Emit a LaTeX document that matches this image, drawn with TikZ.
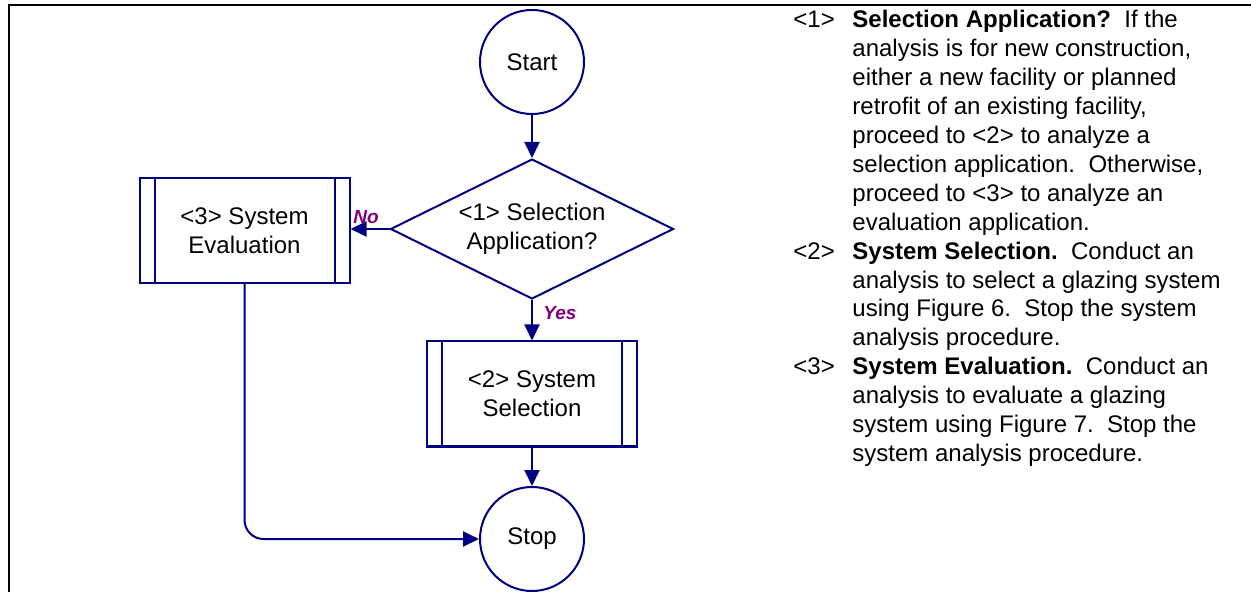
\documentclass[tikz,border=0pt]{standalone}
\usepackage{fontspec}
\setmainfont{Liberation Sans}
\usetikzlibrary{shapes.geometric,arrows.meta}
\definecolor{navy}{RGB}{0,0,128}
\definecolor{lblpurple}{RGB}{128,0,128}
\begin{document}
\begin{tikzpicture}[x=0.5pt,y=-0.5pt,
  every node/.style={font=\fontsize{12}{14.45}\selectfont, inner sep=0pt},
  flow/.style={draw=navy, line width=1pt},
  term/.style={flow, circle, minimum size=52pt, align=center},
  decision/.style={flow, diamond, minimum width=141.5pt, minimum height=70pt, align=center, shape aspect=2},
  proc/.style={flow, rectangle, minimum width=105pt, minimum height=52.5pt, align=center},
  conn/.style={draw=navy, line width=1pt, -{Triangle[length=8pt,width=7.5pt]}},
  lbl/.style={text=lblpurple, font=\fontsize{9.5}{11}\selectfont\bfseries\itshape},
]
\useasboundingbox (0,0) rectangle (1251,592);
\draw[line width=1.25pt] (9,600) -- (9,5) -- (1260,5);

\node[term] (start) at (532,62) {Start};
\node[decision] (dec) at (532,229) {<1> Selection\\Application?};
\node[proc] (eval) at (244.5,230.5) {<3> System\\Evaluation};
\node[proc] (sel) at (532,394) {<2> System\\Selection};
\node[term] (stop) at (532,539) {Stop};

\foreach \b in {eval,sel}{
  \draw[flow] ([xshift=8pt]\b.north west) -- ([xshift=8pt]\b.south west);
  \draw[flow] ([xshift=-8pt]\b.north east) -- ([xshift=-8pt]\b.south east);
}

\draw[conn] (start) -- (dec);
\draw[conn] (dec.west) -- (dec.west -| eval.east);
\draw[conn] (dec) -- (sel);
\draw[conn] (sel) -- (stop);
\draw[conn, rounded corners=9.5pt] (eval.south) |- (stop.west);

\node[lbl] (no) at (366,217) {No};
\node[lbl] (yes) at (560,313) {Yes};

\node[anchor=base west, align=left] (notes) at (793,28) {%
\begin{tabular}[t]{@{}p{29.5pt}@{}l@{}}
<1> & \textbf{Selection Application?}\ \ If the\\
& analysis is for new construction,\\
& either a new facility or planned\\
& retrofit of an existing facility,\\
& proceed to <2> to analyze a\\
& selection application.\ \ Otherwise,\\
& proceed to <3> to analyze an\\
& evaluation application.\\
<2> & \textbf{System Selection.}\ \ Conduct an\\
& analysis to select a glazing system\\
& using Figure 6.\ \ Stop the system\\
& analysis procedure.\\
<3> & \textbf{System Evaluation.}\ \ Conduct an\\
& analysis to evaluate a glazing\\
& system using Figure 7.\ \ Stop the\\
& system analysis procedure.
\end{tabular}};
\end{tikzpicture}
\end{document}
